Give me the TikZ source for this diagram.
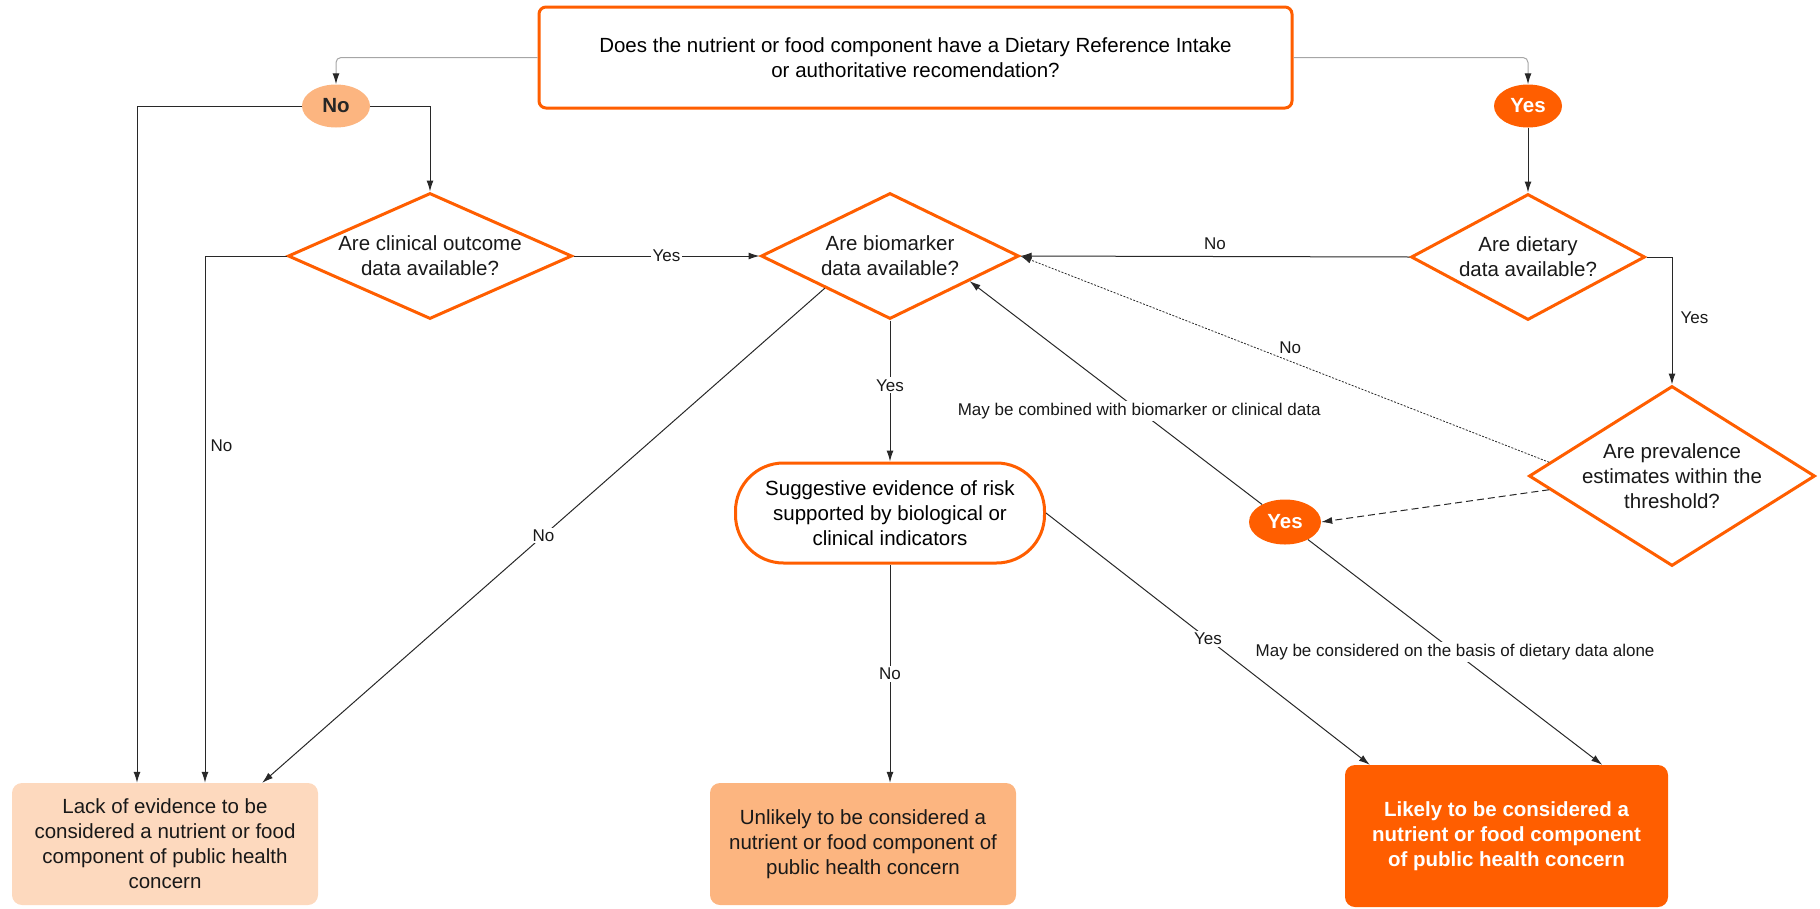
\documentclass[tikz,border=0pt]{standalone}
\usepackage{fontspec}
\setmainfont{Liberation Sans}
\usetikzlibrary{shapes.geometric,arrows.meta,calc}
\definecolor{orng}{RGB}{255,94,0}
\definecolor{noF}{RGB}{252,181,128}
\definecolor{lackF}{RGB}{253,217,190}
\definecolor{unF}{RGB}{252,181,128}
\definecolor{lnc}{RGB}{40,40,40}
\newcommand\mainf{\fontsize{20.5}{25}\selectfont}
\newcommand\labf{\fontsize{17}{20}\selectfont}
\tikzset{
  topbox/.style={draw=orng, line width=3pt, rounded corners=7pt, fill=white,
    minimum width=753pt, minimum height=101pt, align=center, font=\mainf, inner sep=0pt},
  ellno/.style={ellipse, fill=noF, minimum width=68pt, minimum height=43pt, inner sep=0pt,
    font=\mainf\bfseries, text=black!85},
  ellyes/.style={ellipse, fill=orng, minimum width=68pt, minimum height=43pt, inner sep=0pt,
    font=\mainf\bfseries, text=white},
  dia/.style={diamond, draw=orng, line width=3pt, fill=white, inner sep=0pt},
  dtext/.style={align=center, font=\mainf, text=black!90},
  stad/.style={draw=orng, line width=3pt, rounded corners=48pt, fill=white,
    minimum width=309pt, minimum height=100pt, align=center, font=\mainf, inner sep=0pt},
  outbox/.style={rounded corners=10pt, minimum width=306pt, minimum height=122pt,
    align=center, font=\mainf, inner sep=0pt, text=black!90},
  conn/.style={draw=lnc, line width=1pt, -{Latex[length=11pt,width=7pt]}},
  topconn/.style={draw=gray!70, line width=1pt, rounded corners=5pt,
    -{Latex[length=11pt,width=7pt,color=lnc]}},
  lab/.style={font=\labf, text=black!90, inner sep=2pt},
  labw/.style={lab, fill=white}
}
\begin{document}
\begin{tikzpicture}[x=1pt,y=-1pt]
\useasboundingbox (0,0) rectangle (1820,908);

% nodes
\node[topbox] (q0) at (915.5,57.5) {Does the nutrient or food component have a Dietary Reference Intake\\or authoritative recomendation?};
\node[ellno] (no0) at (336,106) {No};
\node[ellyes] (yes0) at (1528,106) {Yes};

\node[dia, minimum width=284pt, minimum height=126pt,
  label={[dtext]center:{Are clinical outcome\\data available?}}] (clin) at (430,256) {};
\node[dia, minimum width=258pt, minimum height=126pt,
  label={[dtext]center:{Are biomarker\\data available?}}] (bio) at (890,256) {};
\node[dia, minimum width=234pt, minimum height=126pt,
  label={[dtext]center:{Are dietary\\data available?}}] (diet) at (1528,257) {};
\node[dia, minimum width=286pt, minimum height=180pt,
  label={[dtext]center:{Are prevalence\\estimates within the\\threshold?}}] (prev) at (1672,476) {};

\node[stad] (sugg) at (890,513) {Suggestive evidence of risk\\supported by biological or\\clinical indicators};
\node[ellyes, minimum width=72pt, minimum height=45pt] (yes1) at (1285,522) {Yes};

\node[outbox, fill=lackF] (lack) at (165,844) {Lack of evidence to be\\considered a nutrient or food\\component of public health\\concern};
\node[outbox, fill=unF] (unl) at (863,844) {Unlikely to be considered a\\nutrient or food component of\\public health concern};
\node[outbox, fill=orng, text=white, font=\mainf\bfseries, minimum width=323pt, minimum height=142pt] (lik) at (1506.5,836) {Likely to be considered a\\nutrient or food component\\of public health concern};

% connectors
\draw[topconn] (q0.west) -| (no0.north);
\draw[topconn] (q0.east) -| (yes0.north);
\draw[conn] (no0.west) -| ([xshift=-28pt]lack.north);
\draw[conn] (no0.east) -| (clin.north);
\draw[conn] (clin.west) -| node[lab, pos=0.68, right=3pt]{No} ([xshift=40pt]lack.north);
\draw[conn] (clin.east) -- node[labw]{Yes} (bio.west);
\draw[conn] (diet.west) -- node[lab, above=4pt]{No} (bio.east);
\draw[conn] (yes0.south) -- (diet.north);
\draw[conn] (diet.east) -| node[lab, pos=0.74, right=6pt]{Yes} (prev.north);
\draw[conn] (bio.south) -- node[labw, pos=0.46]{Yes} (sugg.north);
\draw[conn] (sugg.south) -- node[labw]{No} ([xshift=27pt]unl.north);
\draw[conn] (bio.south west) -- node[labw]{No} ([xshift=-56pt]lack.north east);
\draw[conn] (sugg.east) -- node[labw]{Yes} ([xshift=25pt]lik.north west);
\draw[conn] (yes1) -- node[labw, pos=0.42]{May be combined with biomarker or clinical data} ($(bio.east)!0.39!(bio.south)$);
\draw[conn] (yes1) -- node[labw, pos=0.5]{May be considered on the basis of dietary data alone} ([xshift=-66pt]lik.north east);
\draw[conn, line width=0.8pt, dash pattern=on 2pt off 1.5pt] ($(prev.west)!0.15!(prev.north)$) -- node[lab, pos=0.49, above=5pt]{No} (bio.east);
\draw[conn, dash pattern=on 7pt off 4pt] ($(prev.west)!0.15!(prev.south)$) -- (yes1.east);
\end{tikzpicture}
\end{document}
